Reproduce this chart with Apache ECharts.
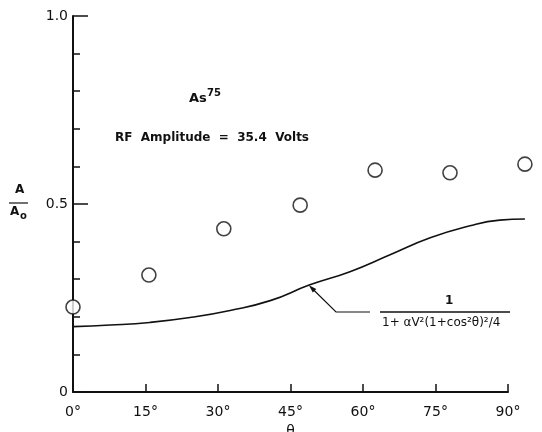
<!DOCTYPE html>
<html>
<head>
<meta charset="utf-8">
<script src="https://cdn.jsdelivr.net/npm/echarts@6/dist/echarts.min.js"></script>
<style>
  html, body { margin: 0; padding: 0; background: #fff; }
  #chart { width: 542px; height: 432px; }
</style>
</head>
<body>
<div id="chart"></div>
<script>
// measured points (open circles)
const thetaPoints = [0, 15.7, 31.2, 47.0, 62.5, 78.0, 93.5];
const ratioPoints = [0.226, 0.311, 0.434, 0.497, 0.590, 0.583, 0.606];

// theory curve 1 / (1 + aV^2 (1+cos^2 theta)^2 / 4)
const thetaCurve = [0, 7.7, 15.9, 24.2, 32.5, 40.8, 49.0, 57.3, 65.6, 73.9, 82.1, 88.3, 93.5];
const ratioCurve = [0.174, 0.178, 0.185, 0.198, 0.217, 0.243, 0.285, 0.320, 0.365, 0.410, 0.442, 0.457, 0.460];

const xTicks = [0, 15, 30, 45, 60, 75, 90];
const dataMaxTheta = 95;

const font = 'DejaVu Sans';
const ink = '#111';

// plot area of the drawn axes
const plotLeft = 73, plotRight = 508, plotTop = 16, plotBottom = 392;
const pxPerDeg = (plotRight - plotLeft) / xTicks[xTicks.length - 1];

var myChart = echarts.init(document.getElementById('chart'));

myChart.setOption({
  backgroundColor: '#fff',
  animation: false,
  grid: [
    // visible axes
    { left: plotLeft, right: 542 - plotRight, top: plotTop, bottom: 432 - plotBottom, outerBoundsMode: 'none' },
    // same scale, a bit wider so the points past 90 deg fit
    { left: plotLeft, right: 542 - (plotLeft + dataMaxTheta * pxPerDeg), top: plotTop, bottom: 432 - plotBottom, outerBoundsMode: 'none' }
  ],
  xAxis: [
    {
      gridIndex: 0,
      type: 'value',
      min: xTicks[0],
      max: xTicks[xTicks.length - 1],
      interval: 15,
      name: 'θ',
      nameLocation: 'middle',
      nameGap: 31,
      nameTextStyle: { fontFamily: font, fontSize: 14, color: ink },
      axisLine: { lineStyle: { color: ink, width: 2 } },
      axisTick: { inside: true, length: 8, lineStyle: { color: ink, width: 1.5 } },
      axisLabel: {
        formatter: '{value}°',
        fontFamily: font,
        fontSize: 14,
        color: ink,
        margin: 13
      },
      splitLine: { show: false }
    },
    {
      gridIndex: 1,
      type: 'value',
      min: 0,
      max: dataMaxTheta,
      show: false
    }
  ],
  yAxis: [
    {
      gridIndex: 0,
      type: 'value',
      min: 0,
      max: 1,
      interval: 0.5,
      axisLine: { show: true, lineStyle: { color: ink, width: 2 } },
      axisTick: { show: true, inside: true, length: 15, lineStyle: { color: ink, width: 1.5 } },
      minorTick: { show: true, splitNumber: 5, length: 7, lineStyle: { color: ink, width: 1.5 } },
      axisLabel: {
        formatter: function (v) { return v === 0 ? '0' : v.toFixed(1); },
        fontFamily: font,
        fontSize: 14,
        color: ink,
        margin: 5
      },
      splitLine: { show: false }
    },
    {
      gridIndex: 1,
      type: 'value',
      min: 0,
      max: 1,
      show: false
    }
  ],
  series: [
    {
      name: 'theory',
      type: 'line',
      xAxisIndex: 1,
      yAxisIndex: 1,
      smooth: true,
      showSymbol: false,
      lineStyle: { color: ink, width: 1.6 },
      data: thetaCurve.map((t, i) => [t, ratioCurve[i]])
    },
    {
      name: 'As75',
      type: 'scatter',
      xAxisIndex: 1,
      yAxisIndex: 1,
      clip: false,
      symbol: 'circle',
      symbolSize: 14,
      itemStyle: { color: '#fff', borderColor: ink, borderWidth: 1.6 },
      data: thetaPoints.map((t, i) => [t, ratioPoints[i]])
    }
  ]
});

// arrow tip sits on the curve, the rest of the annotation is plain text
const tip = myChart.convertToPixel({ gridIndex: 1 }, [48.8, 0.284]);
const elbow = [336, 312];
const ang = Math.atan2(elbow[1] - tip[1], elbow[0] - tip[0]);

myChart.setOption({
  graphic: [
    // y axis name A / A0
    { type: 'text', left: 15, top: 184, style: { text: 'A', font: 'bold 12px ' + font, fill: ink } },
    { type: 'line', shape: { x1: 9, y1: 203, x2: 28, y2: 203 }, style: { stroke: ink, lineWidth: 1.2 } },
    { type: 'text', left: 10, top: 206, style: { text: 'A', font: 'bold 12px ' + font, fill: ink } },
    { type: 'text', left: 20, top: 211, style: { text: 'o', font: 'bold 10px ' + font, fill: ink } },
    // As75
    { type: 'text', left: 189, top: 92, style: { text: 'As', font: 'bold 13px ' + font, fill: ink } },
    { type: 'text', left: 207, top: 88, style: { text: '75', font: 'bold 10px ' + font, fill: ink } },
    // RF amplitude
    { type: 'text', left: 115, top: 132, style: { text: 'RF  Amplitude  =  35.4  Volts', font: 'bold 12px ' + font, fill: ink } },
    // formula fraction
    { type: 'text', left: 445, top: 295, style: { text: '1', font: 'bold 12px ' + font, fill: ink } },
    { type: 'line', shape: { x1: 380, y1: 312, x2: 510, y2: 312 }, style: { stroke: ink, lineWidth: 1.4 } },
    { type: 'text', left: 382, top: 317, style: { text: '1+ αV²(1+cos²θ)²/4', font: '12px ' + font, fill: ink } },
    // leader line with arrow
    { type: 'polyline', shape: { points: [[370, 312], elbow, [tip[0] + 5 * Math.cos(ang), tip[1] + 5 * Math.sin(ang)]] }, style: { stroke: ink, fill: null, lineWidth: 1.2 } },
    {
      type: 'polygon',
      shape: {
        points: [
          tip,
          [tip[0] + 8 * Math.cos(ang) - 2.5 * Math.sin(ang), tip[1] + 8 * Math.sin(ang) + 2.5 * Math.cos(ang)],
          [tip[0] + 8 * Math.cos(ang) + 2.5 * Math.sin(ang), tip[1] + 8 * Math.sin(ang) - 2.5 * Math.cos(ang)]
        ]
      },
      style: { fill: ink }
    }
  ]
});
</script>
</body>
</html>
